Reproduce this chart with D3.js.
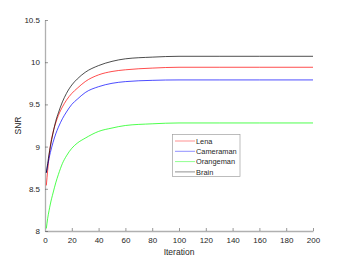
<!DOCTYPE html>
<html><head><meta charset="utf-8">
<script src="https://cdn.jsdelivr.net/npm/d3@7"></script>
<style>
body{margin:0;background:#fff;}
svg{display:block;font-family:"Liberation Sans",Arial,sans-serif;}
</style></head><body>
<svg id="c" width="346" height="260"></svg>
<script>
const iterations = [1,2,3,4,6,8,10,13,16,20,24,30,40,50,60,80,100,130,160,200];
const lena      = [8.54,8.72,8.88,9.01,9.17,9.28,9.37,9.47,9.55,9.63,9.69,9.77,9.85,9.89,9.91,9.93,9.94,9.94,9.94,9.94];
const cameraman = [8.69,8.78,8.86,8.93,9.05,9.15,9.23,9.33,9.41,9.50,9.56,9.64,9.71,9.75,9.77,9.785,9.79,9.79,9.79,9.79];
const orangeman = [8.03,8.15,8.24,8.32,8.45,8.57,8.67,8.80,8.89,8.98,9.04,9.10,9.18,9.22,9.25,9.27,9.28,9.28,9.28,9.28];
const brain     = [8.69,8.80,8.91,9.00,9.16,9.30,9.40,9.53,9.63,9.73,9.80,9.88,9.96,10.01,10.04,10.06,10.07,10.07,10.07,10.07];
const seriesNames = ["Lena","Cameraman","Orangeman","Brain"];
const seriesColors = ["#ff0000","#0000ff","#00ff00","#000000"];
const xTicks = [0,20,40,60,80,100,120,140,160,180,200];
const yTicks = [8,8.5,9,9.5,10,10.5];
const xLabel = "Iteration", yLabel = "SNR";

const svg = d3.select("#c");
const x = d3.scaleLinear().domain([0,200]).range([45,313]);
const y = d3.scaleLinear().domain([8,10.5]).range([231,20]);

const ax = svg.append("g").attr("transform","translate(0,231)")
  .call(d3.axisBottom(x).tickValues(xTicks).tickFormat(d3.format("d")).tickSizeInner(-3).tickSizeOuter(0).tickPadding(6));
const ay = svg.append("g").attr("transform","translate(45,0)")
  .call(d3.axisLeft(y).tickValues(yTicks).tickFormat(d=>String(d)).tickSizeInner(-3).tickSizeOuter(0).tickPadding(5));
[ax,ay].forEach(g=>{
  g.select(".domain").attr("stroke","#b0b0b0").attr("stroke-width",1.3);
  g.selectAll(".tick line").attr("stroke","#555").attr("stroke-width",0.6);
  g.selectAll(".tick text").attr("fill","#262626").attr("font-size",8).attr("font-family","Liberation Sans, Arial, sans-serif");
});

const data = [lena,cameraman,orangeman,brain];
const line = d3.line().x((d,i)=>x(iterations[i])).y(d=>y(d)).curve(d3.curveMonotoneX);
data.forEach((s,k)=>{
  svg.append("path").datum(s).attr("d",line).attr("fill","none")
    .attr("stroke",seriesColors[k]).attr("stroke-width",0.7);
});

svg.append("text").attr("x",179).attr("y",255).attr("text-anchor","middle")
  .attr("font-size",8.5).attr("fill","#262626").text(xLabel);
svg.append("text").attr("transform","translate(21,125.5) rotate(-90)").attr("text-anchor","middle")
  .attr("font-size",8.5).attr("fill","#262626").text(yLabel);

const lg = svg.append("g");
lg.append("rect").attr("x",172.5).attr("y",134.5).attr("width",67.5).attr("height",42)
  .attr("fill","#fff").attr("stroke","#a0a0a0").attr("stroke-width",0.7);
seriesNames.forEach((n,i)=>{
  const yy = 141 + i*10.3;
  lg.append("line").attr("x1",175).attr("x2",195).attr("y1",yy).attr("y2",yy)
    .attr("stroke",seriesColors[i]).attr("stroke-width",0.8).attr("stroke-opacity",0.55);
  lg.append("text").attr("x",196).attr("y",yy+2.6).attr("font-size",7.4).attr("fill","#262626").text(n);
});
</script>
</body></html>
